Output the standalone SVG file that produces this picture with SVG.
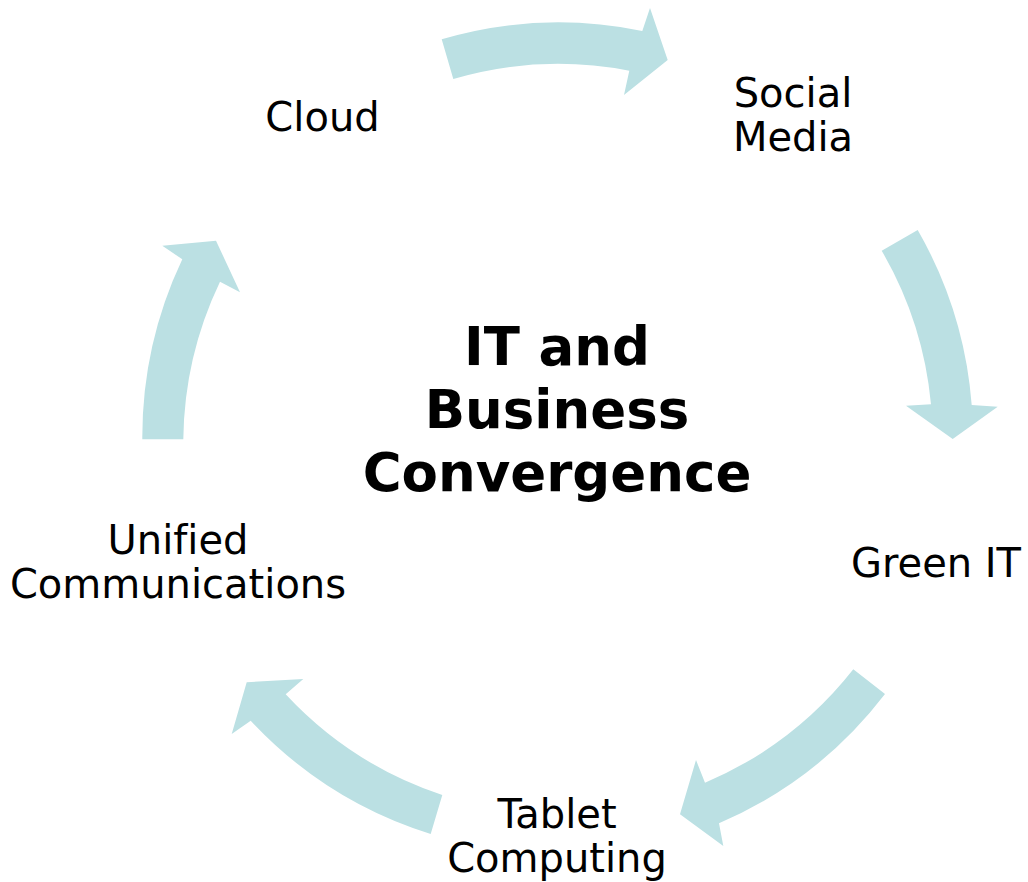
<svg xmlns="http://www.w3.org/2000/svg" width="1028" height="882" viewBox="0 0 1028 882">
<style>
.arrow { fill: #BBE0E3; stroke: none; }
.lbl { font-family: "DejaVu Sans", Verdana, sans-serif; font-size: 40px; fill: #000; text-anchor: middle; font-variant-ligatures: none; }
.title { font-family: "DejaVu Sans", Verdana, sans-serif; font-size: 53px; font-weight: bold; fill: #000; text-anchor: middle; font-variant-ligatures: none; }
</style>
<rect width="1028" height="882" fill="#FFFFFF"/>
<g id="connectors">
<path class="arrow" d="M 453.3 79 L 441.7 39.3 A 416 416 0 0 1 642.3 31 L 650 8 L 667.7 60 L 624 95 L 629.3 70.7 A 375 375 0 0 0 453.3 79 Z"/>
<path class="arrow" d="M 881.7 250.7 L 917.7 230 A 416 416 0 0 1 971.7 405 L 997.7 406.7 L 952.7 439 L 906 405.7 L 931 404.3 A 375 375 0 0 0 881.7 250.7 Z"/>
<path class="arrow" d="M 853.3 669.3 L 885 694 A 416 416 0 0 1 719 823.3 L 723.3 846 L 680 814.3 L 696 760 L 705 782.7 A 375 375 0 0 0 853.3 669.3 Z"/>
<path class="arrow" d="M 442.3 795 L 430.7 834 A 416 416 0 0 1 250.7 720.7 L 231.7 734 L 246.7 682.3 L 303.3 679 L 285.7 694.3 A 375 375 0 0 0 442.3 795 Z"/>
<path class="arrow" d="M 183.3 439.3 L 142.3 439.3 A 416 416 0 0 1 182.3 259.3 L 162.3 245.7 L 216 240.7 L 240 292.3 L 220 281.7 A 375 375 0 0 0 183.3 439.3 Z"/>
</g>
<g id="center">
<text class="title" x="557" y="365">IT and</text>
<text class="title" x="557" y="428">Business</text>
<text class="title" x="557" y="491">Convergence</text>
</g>
<g id="node-cloud">
<text class="lbl" x="322.5" y="130.5">Cloud</text>
</g>
<g id="node-social-media">
<text class="lbl" x="793" y="107">Social</text>
<text class="lbl" x="793" y="151">Media</text>
</g>
<g id="node-green-it">
<text class="lbl" x="936" y="577">Green IT</text>
</g>
<g id="node-tablet-computing">
<text class="lbl" x="557" y="828">Tablet</text>
<text class="lbl" x="557" y="872">Computing</text>
</g>
<g id="node-unified-communications">
<text class="lbl" x="178" y="554">Unified</text>
<text class="lbl" x="178" y="598">Communications</text>
</g>
</svg>
